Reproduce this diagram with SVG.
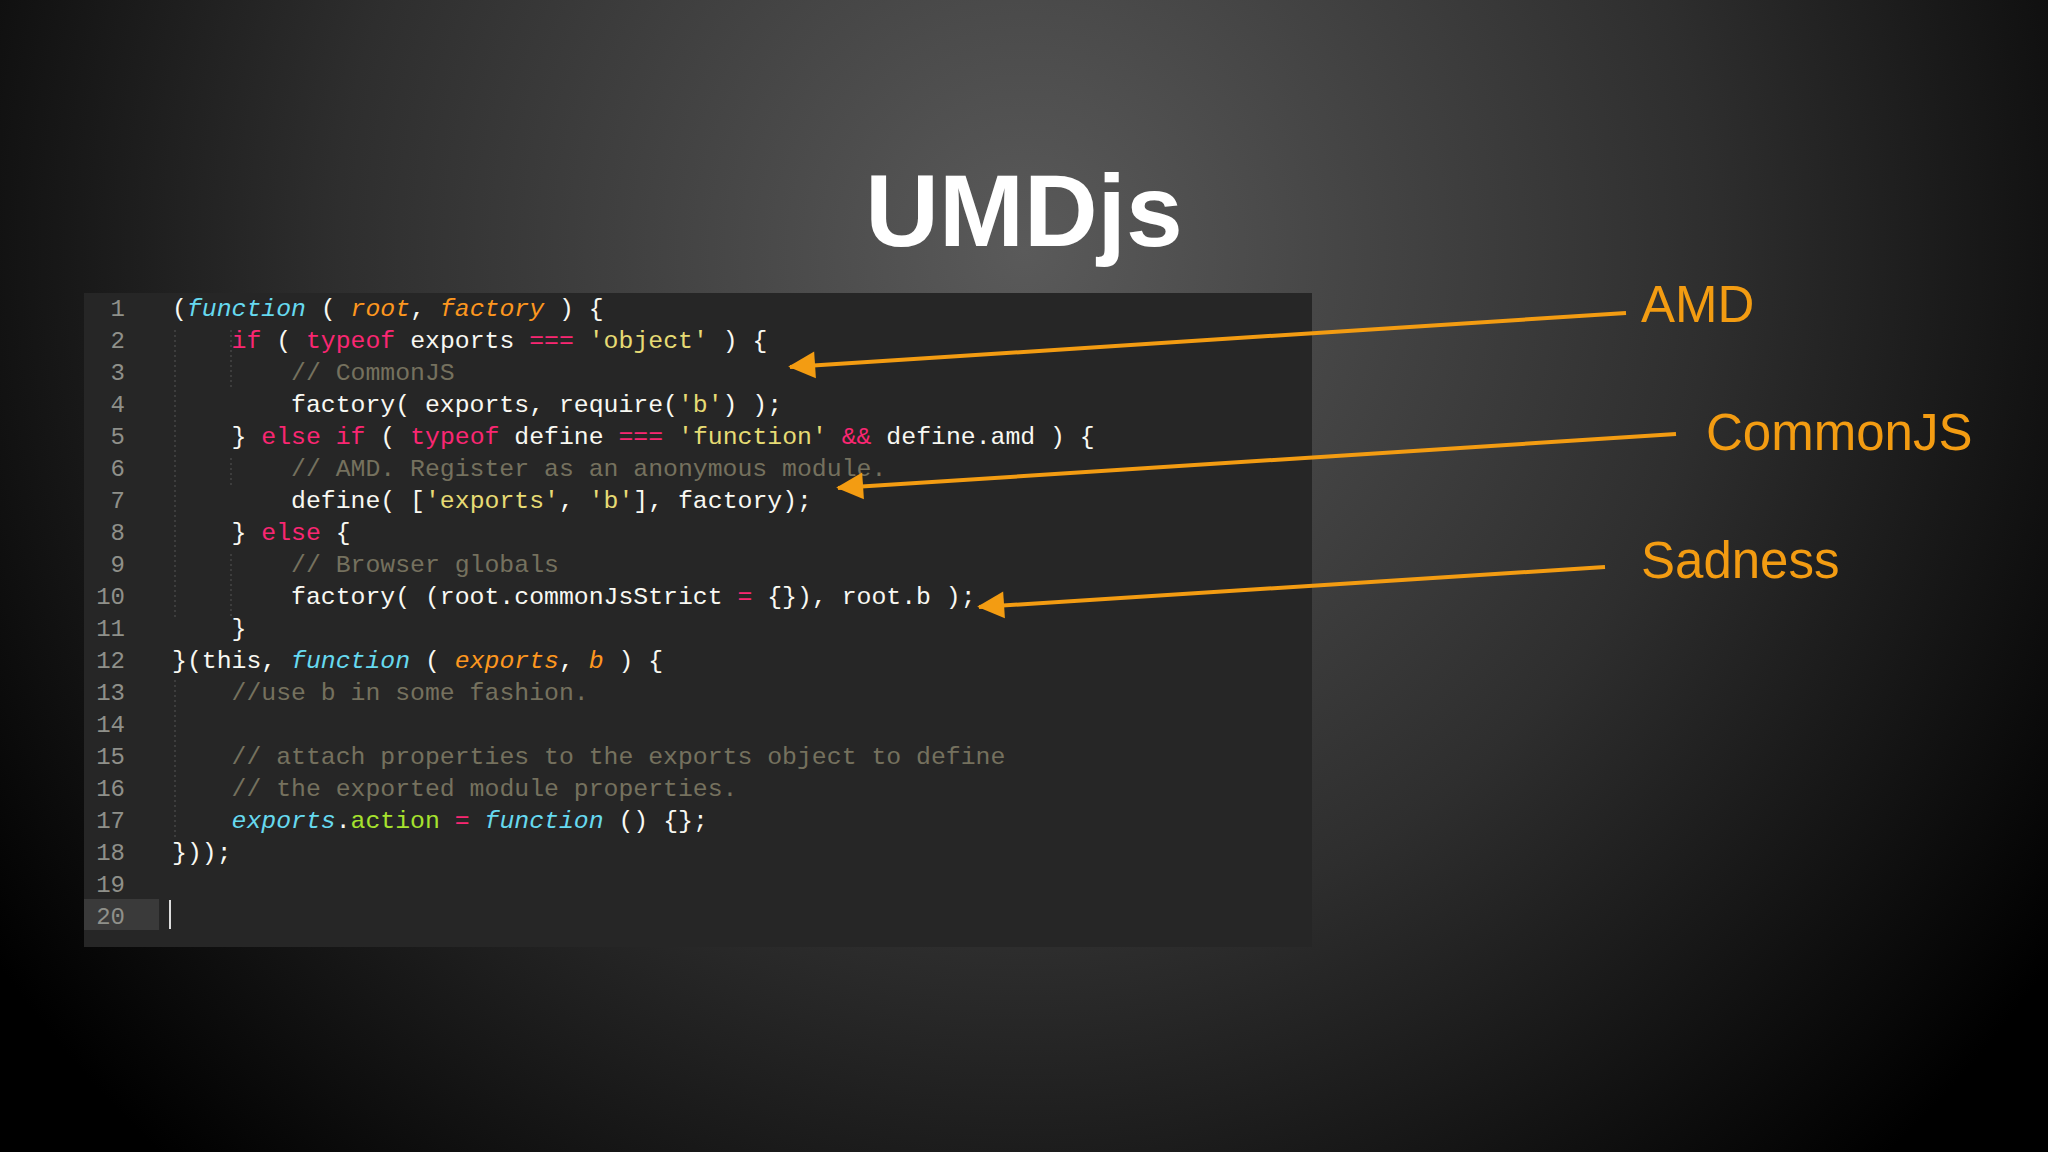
<svg xmlns="http://www.w3.org/2000/svg" width="2048" height="1152" viewBox="0 0 2048 1152">
<style>
.code{font-family:"Liberation Mono","DejaVu Sans Mono",monospace;font-size:24.8px;fill:#f8f8f2;white-space:pre}
.ln{font-family:"Liberation Mono",monospace;font-size:24px;fill:#8f908a;text-anchor:end}
.k{fill:#f92672}.s{fill:#66d9ef;font-style:italic}.p{fill:#fd971f;font-style:italic}.str{fill:#e6db74}.c{fill:#75715e}.g{fill:#a6e22e}
.lbl{font-family:"Liberation Sans",Arial,sans-serif;font-size:51px;fill:#f39c12}
.arr{stroke:#f39c12;stroke-width:4;fill:none;marker-end:url(#ah)}
.guide{stroke:#555;stroke-width:1;stroke-dasharray:2 3}
</style>
<defs>
<radialGradient id="bg" cx="1024" cy="250" r="1250" gradientUnits="userSpaceOnUse">
<stop offset="0" stop-color="#5a5a5a"/><stop offset="0.55" stop-color="#2e2e2e"/><stop offset="1" stop-color="#000"/>
</radialGradient>
<marker id="ah" viewBox="0 0 10 10" refX="9" refY="5" markerWidth="8" markerHeight="8" markerUnits="userSpaceOnUse" orient="auto" style="overflow:visible">
<path d="M0,-1 L12,5 L0,11 Z" fill="#f39c12" transform="scale(2.8) translate(-8,-3)"/>
</marker>
</defs>
<rect width="2048" height="1152" fill="url(#bg)"/>
<g id="title"><text x="1024" y="246" text-anchor="middle" font-family="Liberation Sans,Arial,sans-serif" font-weight="bold" font-size="102" fill="#fff">UMDjs</text></g>
<g id="editor">
<rect x="84" y="293" width="1228" height="654" fill="#262626"/>
<rect x="84" y="899" width="75" height="31" fill="#3a3a3a"/>
<line x1="170" y1="900" x2="170" y2="929" stroke="#ddd" stroke-width="2"/>
<g class="guide">
<line x1="175" y1="330" x2="175" y2="620"/><line x1="231" y1="330" x2="231" y2="390"/><line x1="231" y1="458" x2="231" y2="488"/><line x1="231" y1="554" x2="231" y2="616"/><line x1="175" y1="680" x2="175" y2="840"/>
</g>
<g class="ln">
<text x="125" y="316">1</text><text x="125" y="348">2</text><text x="125" y="380">3</text><text x="125" y="412">4</text><text x="125" y="444">5</text><text x="125" y="476">6</text><text x="125" y="508">7</text><text x="125" y="540">8</text><text x="125" y="572">9</text><text x="125" y="604">10</text><text x="125" y="636">11</text><text x="125" y="668">12</text><text x="125" y="700">13</text><text x="125" y="732">14</text><text x="125" y="764">15</text><text x="125" y="796">16</text><text x="125" y="828">17</text><text x="125" y="860">18</text><text x="125" y="892">19</text><text x="125" y="924">20</text>
</g>
<text class="code" x="172" y="316">(<tspan class="s">function</tspan> ( <tspan class="p">root</tspan>, <tspan class="p">factory</tspan> ) {</text>
<text class="code" x="172" y="348">    <tspan class="k">if</tspan> ( <tspan class="k">typeof</tspan> exports <tspan class="k">===</tspan> <tspan class="str">'object'</tspan> ) {</text>
<text class="code" x="172" y="380">        <tspan class="c">// CommonJS</tspan></text>
<text class="code" x="172" y="412">        factory( exports, require(<tspan class="str">'b'</tspan>) );</text>
<text class="code" x="172" y="444">    } <tspan class="k">else if</tspan> ( <tspan class="k">typeof</tspan> define <tspan class="k">===</tspan> <tspan class="str">'function'</tspan> <tspan class="k">&amp;&amp;</tspan> define.amd ) {</text>
<text class="code" x="172" y="476">        <tspan class="c">// AMD. Register as an anonymous module.</tspan></text>
<text class="code" x="172" y="508">        define( [<tspan class="str">'exports'</tspan>, <tspan class="str">'b'</tspan>], factory);</text>
<text class="code" x="172" y="540">    } <tspan class="k">else</tspan> {</text>
<text class="code" x="172" y="572">        <tspan class="c">// Browser globals</tspan></text>
<text class="code" x="172" y="604">        factory( (root.commonJsStrict <tspan class="k">=</tspan> {}), root.b );</text>
<text class="code" x="172" y="636">    }</text>
<text class="code" x="172" y="668">}(this, <tspan class="s">function</tspan> ( <tspan class="p">exports</tspan>, <tspan class="p">b</tspan> ) {</text>
<text class="code" x="172" y="700">    <tspan class="c">//use b in some fashion.</tspan></text>
<text class="code" x="172" y="764">    <tspan class="c">// attach properties to the exports object to define</tspan></text>
<text class="code" x="172" y="796">    <tspan class="c">// the exported module properties.</tspan></text>
<text class="code" x="172" y="828">    <tspan class="s">exports</tspan>.<tspan class="g">action</tspan> <tspan class="k">=</tspan> <tspan class="s">function</tspan> () {};</text>
<text class="code" x="172" y="860">}));</text>
</g>
<g id="label-amd"><text class="lbl" x="1641" y="322">AMD</text></g>
<g id="label-commonjs"><text class="lbl" x="1706" y="450">CommonJS</text></g>
<g id="label-sadness"><text class="lbl" x="1641" y="578">Sadness</text></g>
<g id="connectors">
<line class="arr" x1="1626" y1="313" x2="790" y2="367"/>
<line class="arr" x1="1676" y1="434" x2="838" y2="488"/>
<line class="arr" x1="1605" y1="567" x2="979" y2="607"/>
</g>
</svg>
